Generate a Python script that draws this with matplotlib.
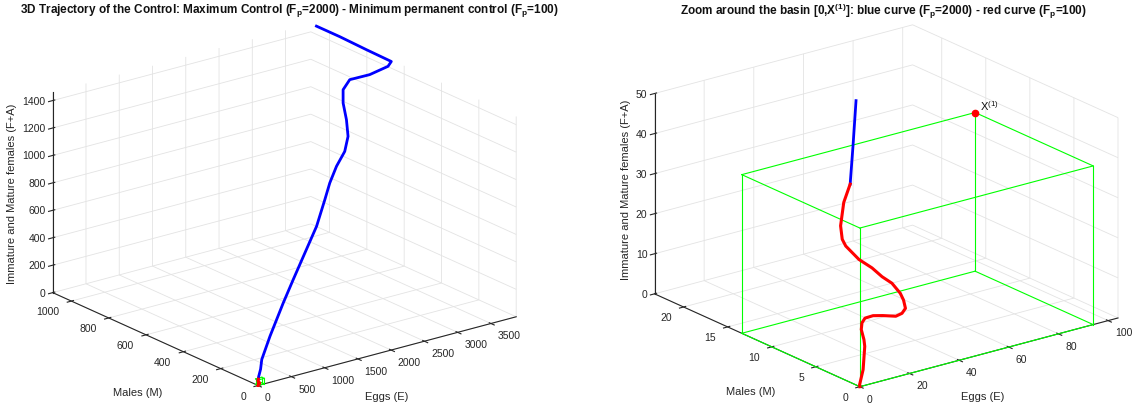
import numpy as np
import matplotlib
matplotlib.use('Agg')
import matplotlib.pyplot as plt
from mpl_toolkits.mplot3d import proj3d
from itertools import product, combinations

plt.rcParams['font.family'] = ['Liberation Sans', 'DejaVu Sans']
plt.rcParams['mathtext.fontset'] = 'custom'
plt.rcParams['mathtext.rm'] = 'Liberation Sans'
plt.rcParams['mathtext.it'] = 'Liberation Sans:italic'
plt.rcParams['mathtext.bf'] = 'Liberation Sans:bold'
plt.rcParams['grid.color'] = '#e3e3e3'
plt.rcParams['grid.linewidth'] = 0.6
plt.rcParams['axes3d.automargin'] = False

# ---- data: trajectory with maximum control (Fp = 2000) ----
blue_E = [3880, 3880, 3880, 3880, 3819, 3538, 3230, 3046, 2990, 2984, 2938, 2818, 2610,
          2425, 2267, 2002, 1658, 1314, 996, 572, 280, 150, 47.1, 36.3, 31.6]
blue_M = [1070, 945, 802, 669, 665, 663, 660, 630, 610, 590, 565, 540, 510,
          480, 450, 400, 340, 280, 220, 140, 80, 40, 13.7, 11.0, 10.0]
blue_Z = [1460, 1460, 1453, 1449, 1424, 1401, 1406, 1375, 1298, 1189, 1089, 1010, 947,
          868, 786, 656, 543, 430, 338, 199, 104, 75, 50.0, 43.2, 35.4]

# ---- data: trajectory with minimum permanent control (Fp = 100) ----
red_E = [31.6, 27.6, 24.9, 24.5, 25.2, 29.1, 33.3, 36.3, 39.2, 41.5, 42.1, 41.8,
         39.7, 36.5, 30.2, 25.2, 20.9, 18.6, 16.9, 16.2, 15.1, 7.7, 0.6, 0.0]
red_M = [10.0, 9.6, 9.2, 8.9, 8.7, 8.3, 8.0, 7.7, 7.4, 7.1, 6.9, 6.6,
         6.4, 6.2, 5.9, 5.6, 5.3, 5.0, 4.6, 4.1, 3.7, 1.8, 0.2, 0.0]
red_Z = [35.4, 31.9, 26.9, 23.9, 22.3, 18.7, 16.2, 13.8, 12.0, 9.4, 7.8, 6.1,
         5.4, 5.4, 6.9, 8.0, 8.4, 7.9, 6.9, 5.0, 3.9, 1.2, 0.2, 0.0]

# ---- basin point X(1) ----
X1 = [94.0, 13.4, 39.6]

# ---- axis limits and ticks ----
left_lims = [(0, 3880), (0, 1100), (0, 1460)]
left_E_ticks = [0, 500, 1000, 1500, 2000, 2500, 3000, 3500]
left_M_ticks = [0, 200, 400, 600, 800, 1000]
left_Z_ticks = [0, 200, 400, 600, 800, 1000, 1200, 1400]

right_lims = [(0, 104), (0, 23.3), (0, 50)]
right_E_ticks = [0, 20, 40, 60, 80, 100]
right_M_ticks = [0, 5, 10, 15, 20]
right_Z_ticks = [0, 10, 20, 30, 40, 50]

title_left = (r'3D Trajectory of the Control: Maximum Control (F$_\mathbf{p}$=2000) - '
              r'Minimum permanent control (F$_\mathbf{p}$=100)')
title_right = (r'Zoom around the basin [0,X$^\mathbf{(1)}$]: blue curve (F$_\mathbf{p}$=2000) - '
               r'red curve (F$_\mathbf{p}$=100)')
xlabel = 'Eggs (E)'
ylabel = 'Males (M)'
zlabel = 'Immature and Mature females (F+A)'
x1_label = 'X$^{(1)}$'

W, H = 1134, 406
fig = plt.figure(figsize=(W / 100, H / 100), dpi=100)

TXT = '#262626'
TICK_FS = 7.5
BOX_ASPECT = (326, 338, 214)


def make_axes(cx, cy, side):
    ax = fig.add_axes([(cx - side / 2) / W, 1 - (cy + side / 2) / H, side / W, side / H],
                      projection='3d', proj_type='ortho')
    ax.view_init(elev=20.3, azim=-127.5)
    ax.set_box_aspect(BOX_ASPECT)
    for axis in (ax.xaxis, ax.yaxis, ax.zaxis):
        axis.set_pane_color((1, 1, 1, 0))
        axis.pane.set_edgecolor((1, 1, 1, 0))
        axis.line.set_color(TXT)
        axis.line.set_linewidth(0.8)
        axis.set_tick_params(labelbottom=False, labelleft=False, colors=TXT)
        axis.label.set_visible(False)
        axis.offsetText.set_visible(False)
    for t in (ax.title, ax._left_title, ax._right_title):
        t.set_visible(False)
    return ax


def set_scales(ax, lims, et, mt, zt):
    (e0, e1), (m0, m1), (z0, z1) = lims
    ax.set_xlim(e0, e1)
    ax.set_ylim(m0, m1)
    ax.set_zlim(z0, z1)
    ax.set_xticks(et)
    ax.set_yticks(mt)
    ax.set_zticks(zt)


def to_fig(ax, x, y, z):
    x2, y2, _ = proj3d.proj_transform(x, y, z, ax.get_proj())
    p = ax.transData.transform((x2, y2))
    return fig.transFigure.inverted().transform(p)


def tick_labels(ax, lims, et, mt, zt):
    (e0, e1), (m0, m1), (z0, z1) = lims
    Er, Mr, Zr = e1 - e0, m1 - m0, z1 - z0
    kw = dict(fontsize=TICK_FS, color=TXT, va='center')
    for t in et:
        fx, fy = to_fig(ax, t, m0 - 0.0330 * Mr, z0 - 0.0440 * Zr)
        fig.text(fx, fy, f'{t:g}', ha='left', **kw)
    for t in mt:
        fx, fy = to_fig(ax, e0 - 0.0463 * Er, t, z0 - 0.0345 * Zr)
        fig.text(fx, fy, f'{t:g}', ha='right', **kw)
    for t in zt:
        fx, fy = to_fig(ax, e0 - 0.0170 * Er, m1 + 0.0126 * Mr, t)
        fig.text(fx, fy, f'{t:g}', ha='right', **kw)


def basin_box(ax):
    corners = list(product([0, X1[0]], [0, X1[1]], [0, X1[2]]))
    for a, b in combinations(corners, 2):
        if sum(1 for i in range(3) if a[i] != b[i]) == 1:
            ax.plot([a[0], b[0]], [a[1], b[1]], [a[2], b[2]], color='#00ff00', lw=0.8)


def axis_labels(ex, ey, mx, my, zx, zy):
    fig.text(ex / W, 1 - ey / H, xlabel, ha='center', va='center', fontsize=8, color=TXT)
    fig.text(mx / W, 1 - my / H, ylabel, ha='center', va='center', fontsize=8, color=TXT)
    fig.text(zx / W, 1 - zy / H, zlabel, ha='center', va='center', fontsize=8,
             color=TXT, rotation=90)


# ---------------- left ----------------
axL = make_axes(277.7, 212.3, 500)
set_scales(axL, left_lims, left_E_ticks, left_M_ticks, left_Z_ticks)
basin_box(axL)
axL.plot(blue_E, blue_M, blue_Z, color='#0000ff', lw=2.0)
axL.plot(red_E, red_M, red_Z, color='#ff0000', lw=2.2)
axis_labels(387, 397, 138, 393, 12.5, 194)

# ---------------- right ----------------
axR = make_axes(879.5, 213.5, 500)
set_scales(axR, right_lims, right_E_ticks, right_M_ticks, right_Z_ticks)
basin_box(axR)
bE, bM, bZ = np.array(blue_E), np.array(blue_M), np.array(blue_Z)
inside = (bE <= right_lims[0][1]) & (bM <= right_lims[1][1]) & (bZ <= right_lims[2][1])
axR.plot(bE[inside], bM[inside], bZ[inside], color='#0000ff', lw=2.0)
axR.plot(red_E, red_M, red_Z, color='#ff0000', lw=2.2)
axR.plot([X1[0]], [X1[1]], [X1[2]], 'o', color='#ff0000', ms=4.5)
axis_labels(983, 397, 751, 392, 625.7, 190)

fig.text(289 / W, 1 - 11 / H, title_left, ha='center', va='center',
         fontsize=8.5, fontweight='bold', color='#111111')
fig.text(883 / W, 1 - 11 / H, title_right, ha='center', va='center',
         fontsize=8.5, fontweight='bold', color='#111111')

# place tick labels and the X(1) annotation once the 3D projection is settled
fig.canvas.draw()
tick_labels(axL, left_lims, left_E_ticks, left_M_ticks, left_Z_ticks)
tick_labels(axR, right_lims, right_E_ticks, right_M_ticks, right_Z_ticks)
fx, fy = to_fig(axR, X1[0], X1[1], X1[2])
fig.text(fx + 5 / W, fy + 1 / H, x1_label, ha='left', va='bottom', fontsize=8, color='#111111')

fig.savefig('out.png', dpi=100)
